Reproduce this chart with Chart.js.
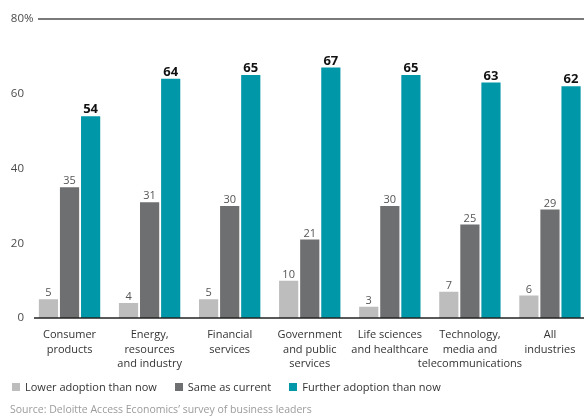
<!DOCTYPE html>
<html>
<head>
<meta charset="utf-8">
<script src="https://cdn.jsdelivr.net/npm/chart.js@4.4.0/dist/chart.umd.min.js"></script>
<style>
  body { margin: 0; overflow: hidden; background: #fff; font-family: "Open Sans", sans-serif; }
  #wrap { position: relative; width: 590px; height: 416px; }
  .legend { position: absolute; left: 12px; top: 379px; font-size: 11px; color: #333; white-space: nowrap; }
  .legend span.item { display: inline-block; margin-right: 18px; }
  .legend i { display: inline-block; width: 8px; height: 8px; margin-right: 5px; vertical-align: 0px; }
  .source { position: absolute; left: 10px; top: 402px; font-size: 10.5px; color: #9b9b9b; white-space: nowrap; }
</style>
</head>
<body>
<div id="wrap">
  <canvas id="chart"></canvas>
  <div class="legend" id="legend"></div>
  <div class="source">Source: Deloitte Access Economics’ survey of business leaders</div>
</div>
<script>
const categories = [
    ['Consumer', 'products'],
    ['Energy,', 'resources', 'and industry'],
    ['Financial', 'services'],
    ['Government', 'and public', 'services'],
    ['Life sciences', 'and healthcare'],
    ['Technology,', 'media and', 'telecommunications'],
    ['All', 'industries']
]
const lowerAdoption = [5, 4, 5, 10, 3, 7, 6]
const sameAsCurrent = [35, 31, 30, 21, 30, 25, 29]
const furtherAdoption = [54, 64, 65, 67, 65, 63, 62]
const yTicks = [0, 20, 40, 60, 80]
const seriesNames = ['Lower adoption than now', 'Same as current', 'Further adoption than now']
const seriesColors = ['#bcbdbc', '#6d6f71', '#0097a9']

const FONT = '"Open Sans", sans-serif'

// values on top of each bar, the teal series in bold
const barLabels = {
    id: 'barLabels',
    afterDatasetsDraw(chart) {
        const ctx = chart.ctx
        chart.data.datasets.forEach((ds, i) => {
            const meta = chart.getDatasetMeta(i)
            const bold = i === 2
            ctx.save()
            ctx.font = (bold ? 'bold 13px ' : '11px ') + FONT
            ctx.fillStyle = bold ? '#111' : '#555'
            ctx.textAlign = 'center'
            ctx.textBaseline = 'alphabetic'
            meta.data.forEach((bar, j) => ctx.fillText(ds.data[j], bar.x, bar.y - 3))
            ctx.restore()
        })
    }
}

// 80% rule, baseline and the y labels (with the hanging %)
const axisDecor = {
    id: 'axisDecor',
    afterDatasetsDraw(chart) {
        const {ctx, chartArea, scales: {y}} = chart
        ctx.save()
        ctx.strokeStyle = '#7a7a7a'
        ctx.lineWidth = 2
        ctx.beginPath()
        ctx.moveTo(38, y.getPixelForValue(80))
        ctx.lineTo(chartArea.right, y.getPixelForValue(80))
        ctx.stroke()

        ctx.strokeStyle = '#222'
        ctx.lineWidth = 1.5
        ctx.beginPath()
        ctx.moveTo(34, y.getPixelForValue(0))
        ctx.lineTo(chartArea.right, y.getPixelForValue(0))
        ctx.stroke()

        ctx.font = '11.5px ' + FONT
        ctx.fillStyle = '#4a4a4a'
        ctx.textBaseline = 'middle'
        yTicks.forEach(v => {
            const py = y.getPixelForValue(v)
            ctx.textAlign = 'right'
            ctx.fillText(String(v), 24, py)
            if (v === 80) {
                ctx.textAlign = 'left'
                ctx.fillText('%', 24, py)
            }
        })
        ctx.restore()
    }
}

const chart = new Chart(document.getElementById('chart'), {
    type: 'bar',
    data: {
        labels: categories,
        datasets: [
            {label: seriesNames[0], data: lowerAdoption, backgroundColor: seriesColors[0]},
            {label: seriesNames[1], data: sameAsCurrent, backgroundColor: seriesColors[1]},
            {label: seriesNames[2], data: furtherAdoption, backgroundColor: seriesColors[2]}
        ]
    },
    options: {
        responsive: true,
        maintainAspectRatio: false,
        animation: false,
        layout: {padding: {top: 19, left: 0, right: 0, bottom: 0}},
        datasets: {bar: {categoryPercentage: 0.79, barPercentage: 0.91, borderWidth: 0}},
        plugins: {
            legend: {display: false},
            tooltip: {enabled: false}
        },
        scales: {
            x: {
                grid: {display: false, drawTicks: false},
                border: {display: false},
                ticks: {
                    autoSkip: false,
                    maxRotation: 0,
                    minRotation: 0,
                    padding: 10,
                    color: '#333',
                    font: {family: FONT, size: 11, lineHeight: 1.3}
                },
                afterFit: s => { s.height = 98 }
            },
            y: {
                min: 0,
                max: 80,
                ticks: {display: false, stepSize: 20},
                grid: {display: false},
                border: {display: false},
                afterFit: s => { s.width = 29.5 }
            }
        }
    },
    plugins: [barLabels, axisDecor]
})

document.getElementById('legend').innerHTML = seriesNames.map((name, i) =>
    `<span class="item"><i style="background:${seriesColors[i]}"></i>${name}</span>`
).join('')
</script>
</body>
</html>
